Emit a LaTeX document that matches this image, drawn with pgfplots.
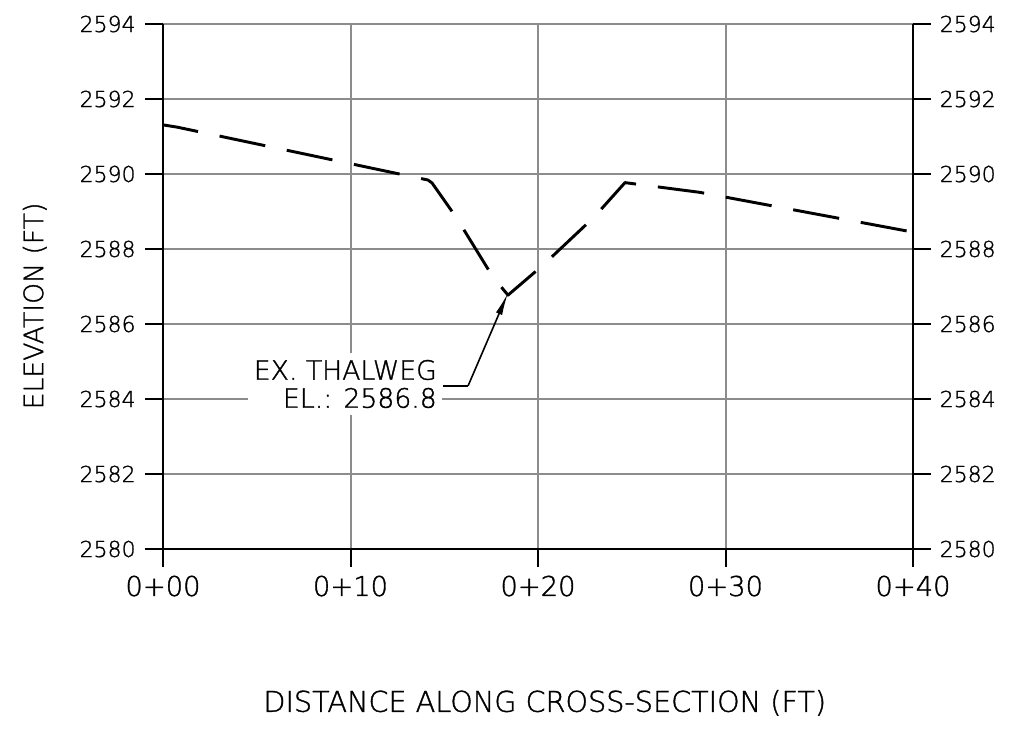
\documentclass[border=0pt]{standalone}
\usepackage{pgfplots}
\pgfplotsset{compat=1.18}
\usepackage{fontspec}
\setmainfont{DejaVu Sans ExtraLight}[RawFeature={embolden=1.2}]
\usetikzlibrary{arrows.meta}

\pgfplotsset{
  xsec/.style={
    scale only axis,
    width=562.5pt, height=393.75pt,
    at={(0,0)}, anchor=south west,
    xmin=0, xmax=40, ymin=2580, ymax=2594,
    ytick={2580,2582,...,2594},
    tick align=outside,
    major tick length=13.5pt,
    tick style={line width=1.5pt, black},
    axis line style={line width=1.5pt, black},
    /pgf/number format/assume math mode=true,
    /pgf/number format/set thousands separator={},
  }
}

\begin{document}
\begin{tikzpicture}
\begin{axis}[xsec,
    axis x line*=bottom, axis y line*=left,
    grid=major,
    major grid style={line width=1.5pt, gray!90},
    xtick={0,10,20,30,40},
    xticklabels={0+00,0+10,0+20,0+30,0+40},
    xticklabel style={font=\fontsize{20.5}{24}\selectfont, yshift=-3pt},
    yticklabel style={font=\fontsize{16.5}{18}\selectfont, xshift=-3.5pt},
    ylabel={ELEVATION (FT)},
    xlabel={DISTANCE ALONG CROSS-SECTION (FT)},
    every axis y label/.style={at={(axis description cs:-0.171,0.463)}, rotate=90, anchor=center, font=\fontsize{20}{24}\selectfont},
    every axis x label/.style={at={(axis description cs:0.509,-0.293)}, anchor=center, font=\fontsize{21.5}{24}\selectfont},
    clip=false,
]
\addplot[line width=2.2pt, black, line join=round,
    dash pattern=on 35pt off 16.5pt, dash phase=8.25pt] coordinates {
    (0,2591.31) (0.75,2591.25) (14.13,2589.84) (14.35,2589.76)
    (15.63,2588.85) (17.6,2587.25) (18.4,2586.77)
    (20.27,2587.57) (22.99,2588.85) (24.64,2589.77)
    (28.64,2589.51) (40,2588.45)
};
\node[fill=white, align=right, anchor=east, inner xsep=4pt, inner ysep=5pt,
      font=\fontsize{20}{21}\selectfont]
    at (axis cs:14.9,2584.4) {EX. THALWEG\\EL.: 2586.8};
\draw[line width=1.2pt] (axis cs:14.93,2584.35) -- (axis cs:16.27,2584.35);
\draw[line width=1.2pt, -{Latex[length=17pt, width=5pt]}]
    (axis cs:16.27,2584.35) -- (axis cs:18.4,2586.83);
\end{axis}
\begin{axis}[xsec,
    axis x line=none, axis y line*=right,
    xtick=\empty,
    yticklabel style={font=\fontsize{16.5}{18}\selectfont, xshift=3pt},
]
\end{axis}
\pgfresetboundingbox
\path[use as bounding box] (-122.25pt,-140.25pt) rectangle (642.75pt,411.75pt);
\end{tikzpicture}
\end{document}
